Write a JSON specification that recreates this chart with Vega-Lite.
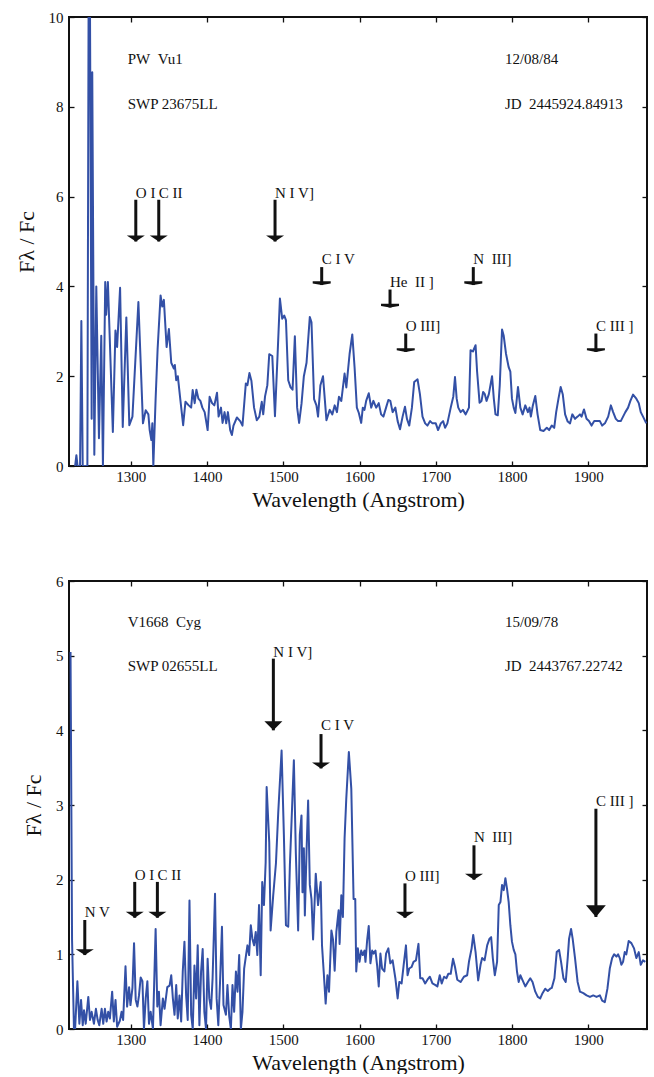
{
  "$schema": "https://vega.github.io/schema/vega-lite/v6.json",
  "background": "white",
  "padding": {"left": 14, "top": 9, "right": 7, "bottom": 0},
  "spacing": 62,
  "config": {
    "font": "Liberation Serif",
    "view": {"stroke": "#111111", "strokeWidth": 2},
    "axis": {
      "domain": false,
      "grid": false,
      "tickColor": "#111111",
      "tickWidth": 1.3,
      "tickSize": -5,
      "labelFont": "Liberation Serif",
      "labelFontSize": 15,
      "labelColor": "#111111",
      "titleFont": "Liberation Serif",
      "titleFontSize": 22,
      "titleFontWeight": "normal",
      "titleColor": "#111111"
    },
    "text": {"font": "Liberation Serif", "fontSize": 15, "color": "#111111"}
  },
  "datasets": {
    "pwvul": [
      {"w": 1227, "f": 0}, {"w": 1228.7, "f": 0.24}, {"w": 1230.2, "f": 0}, {"w": 1233.5, "f": 0},
      {"w": 1235.2, "f": 3.23}, {"w": 1237, "f": 0}, {"w": 1243.1, "f": 0}, {"w": 1244.7, "f": 10.3},
      {"w": 1246.5, "f": 10.3}, {"w": 1248.7, "f": 1.05}, {"w": 1249.5, "f": 8.77}, {"w": 1252.2, "f": 0.25},
      {"w": 1254.8, "f": 4.0}, {"w": 1258.3, "f": 0.62}, {"w": 1261.3, "f": 2.9}, {"w": 1263.5, "f": 0},
      {"w": 1266.5, "f": 4.1}, {"w": 1267.8, "f": 3.37}, {"w": 1270, "f": 4.1}, {"w": 1276.5, "f": 0.76},
      {"w": 1279.9, "f": 3.02}, {"w": 1282.1, "f": 2.65}, {"w": 1286, "f": 3.97}, {"w": 1289.5, "f": 0.87},
      {"w": 1294.2, "f": 3.31}, {"w": 1298.1, "f": 0.91}, {"w": 1302.2, "f": 1.1}, {"w": 1310, "f": 3.65},
      {"w": 1316, "f": 0.95}, {"w": 1319.6, "f": 1.24}, {"w": 1323.1, "f": 1.15}, {"w": 1324.8, "f": 0.8},
      {"w": 1327, "f": 0.58}, {"w": 1328.3, "f": 0.95}, {"w": 1329.6, "f": 0}, {"w": 1332.6, "f": 1.5},
      {"w": 1335.2, "f": 2.6}, {"w": 1339.1, "f": 3.8}, {"w": 1341.3, "f": 3.55}, {"w": 1343.4, "f": 3.7},
      {"w": 1347, "f": 2.65}, {"w": 1350, "f": 3.05}, {"w": 1353.1, "f": 2.3}, {"w": 1356.5, "f": 2.17},
      {"w": 1357.8, "f": 2.25}, {"w": 1359.6, "f": 1.91}, {"w": 1361.7, "f": 2.0}, {"w": 1365.2, "f": 1.45},
      {"w": 1368.7, "f": 0.91}, {"w": 1371.7, "f": 1.43}, {"w": 1376, "f": 1.35}, {"w": 1379.2, "f": 1.3},
      {"w": 1381.2, "f": 1.69}, {"w": 1383.8, "f": 1.4}, {"w": 1386.1, "f": 1.7}, {"w": 1388.7, "f": 1.5},
      {"w": 1391.3, "f": 1.45}, {"w": 1393.9, "f": 1.3}, {"w": 1396.9, "f": 1.2}, {"w": 1400.8, "f": 0.8},
      {"w": 1403.4, "f": 1.54}, {"w": 1406.6, "f": 1.4}, {"w": 1409.6, "f": 1.35}, {"w": 1413.1, "f": 1.63},
      {"w": 1415.2, "f": 1.1}, {"w": 1418.3, "f": 1.3}, {"w": 1420.4, "f": 0.96}, {"w": 1423, "f": 1.2},
      {"w": 1425.2, "f": 0.95}, {"w": 1427.4, "f": 1.2}, {"w": 1430.4, "f": 0.8}, {"w": 1432.6, "f": 0.69},
      {"w": 1434.7, "f": 0.9}, {"w": 1439.2, "f": 1.08}, {"w": 1443.5, "f": 1.0}, {"w": 1446.5, "f": 0.9},
      {"w": 1450.9, "f": 1.84}, {"w": 1453, "f": 1.8}, {"w": 1455.6, "f": 2.07}, {"w": 1458.2, "f": 1.9},
      {"w": 1461.7, "f": 1.3}, {"w": 1465.3, "f": 1.02}, {"w": 1468.6, "f": 1.1}, {"w": 1471.8, "f": 1.43},
      {"w": 1473.7, "f": 1.15}, {"w": 1476.1, "f": 1.55}, {"w": 1479.1, "f": 1.8}, {"w": 1481.6, "f": 2.49},
      {"w": 1485.6, "f": 2.45}, {"w": 1489.1, "f": 1.11}, {"w": 1492.6, "f": 2.5}, {"w": 1495.6, "f": 3.73},
      {"w": 1498.6, "f": 3.28}, {"w": 1501.3, "f": 3.35}, {"w": 1503.5, "f": 3.25}, {"w": 1506.5, "f": 1.91},
      {"w": 1509.6, "f": 1.75}, {"w": 1512.2, "f": 1.7}, {"w": 1515.2, "f": 2.89}, {"w": 1518.2, "f": 1.3},
      {"w": 1520.8, "f": 0.96}, {"w": 1524, "f": 1.4}, {"w": 1527, "f": 2.0}, {"w": 1530.5, "f": 2.3},
      {"w": 1534.8, "f": 3.32}, {"w": 1537, "f": 3.2}, {"w": 1540.4, "f": 1.49}, {"w": 1543.5, "f": 1.35},
      {"w": 1545.6, "f": 1.1}, {"w": 1548.7, "f": 1.8}, {"w": 1552.1, "f": 2.0}, {"w": 1556.6, "f": 1.02},
      {"w": 1560.9, "f": 1.25}, {"w": 1564.4, "f": 1.15}, {"w": 1567.4, "f": 1.35}, {"w": 1570.4, "f": 1.2},
      {"w": 1573, "f": 1.54}, {"w": 1576.1, "f": 1.45}, {"w": 1580.4, "f": 2.06}, {"w": 1582.7, "f": 1.75},
      {"w": 1587, "f": 2.5}, {"w": 1590.5, "f": 2.93}, {"w": 1593.5, "f": 2.2}, {"w": 1596.5, "f": 1.3},
      {"w": 1599.1, "f": 1.18}, {"w": 1602.2, "f": 0.96}, {"w": 1604.3, "f": 1.3}, {"w": 1606.5, "f": 1.25},
      {"w": 1608.7, "f": 1.45}, {"w": 1612.1, "f": 1.62}, {"w": 1615.3, "f": 1.3}, {"w": 1618.2, "f": 1.45},
      {"w": 1621.8, "f": 1.3}, {"w": 1625.2, "f": 1.4}, {"w": 1628.3, "f": 1.15}, {"w": 1631.3, "f": 1.1},
      {"w": 1634.8, "f": 1.3}, {"w": 1637.8, "f": 1.47}, {"w": 1640.4, "f": 1.45}, {"w": 1643.4, "f": 1.2},
      {"w": 1647, "f": 1.3}, {"w": 1650, "f": 1.0}, {"w": 1653.1, "f": 0.82}, {"w": 1656.5, "f": 1.1},
      {"w": 1659.6, "f": 1.32}, {"w": 1662.2, "f": 1.05}, {"w": 1665.2, "f": 0.9}, {"w": 1668.7, "f": 1.3},
      {"w": 1671.7, "f": 1.87}, {"w": 1676.1, "f": 1.93}, {"w": 1679.2, "f": 1.6}, {"w": 1682.6, "f": 1.1},
      {"w": 1686.1, "f": 0.95}, {"w": 1689.1, "f": 0.9}, {"w": 1692.6, "f": 1.0}, {"w": 1695.6, "f": 0.95},
      {"w": 1700, "f": 0.95}, {"w": 1703, "f": 0.8}, {"w": 1706.6, "f": 0.95}, {"w": 1709.6, "f": 1.0},
      {"w": 1712.2, "f": 0.85}, {"w": 1715.2, "f": 0.95}, {"w": 1719.6, "f": 1.3}, {"w": 1723, "f": 1.55},
      {"w": 1725.2, "f": 1.98}, {"w": 1727.4, "f": 1.5}, {"w": 1729.5, "f": 1.3}, {"w": 1732.6, "f": 1.2},
      {"w": 1735.6, "f": 1.25}, {"w": 1739.2, "f": 1.15}, {"w": 1743.5, "f": 1.3}, {"w": 1745.6, "f": 2.58},
      {"w": 1748.7, "f": 2.55}, {"w": 1752.2, "f": 2.69}, {"w": 1754.2, "f": 2.1}, {"w": 1757.4, "f": 1.41},
      {"w": 1760, "f": 1.45}, {"w": 1762.1, "f": 1.65}, {"w": 1764.3, "f": 1.6}, {"w": 1766.6, "f": 1.45},
      {"w": 1769.6, "f": 1.6}, {"w": 1771.7, "f": 1.8}, {"w": 1773.8, "f": 2.0}, {"w": 1776.1, "f": 1.5},
      {"w": 1778.3, "f": 1.15}, {"w": 1781.3, "f": 1.13}, {"w": 1783.9, "f": 1.8}, {"w": 1786.9, "f": 3.04},
      {"w": 1789.1, "f": 2.9}, {"w": 1792.1, "f": 2.5}, {"w": 1795.6, "f": 2.2}, {"w": 1797.8, "f": 2.1},
      {"w": 1799.9, "f": 1.5}, {"w": 1802.2, "f": 1.3}, {"w": 1804.4, "f": 1.18}, {"w": 1807.8, "f": 1.76},
      {"w": 1810.9, "f": 1.3}, {"w": 1813.9, "f": 1.15}, {"w": 1817.4, "f": 1.35}, {"w": 1820.8, "f": 1.2},
      {"w": 1823, "f": 1.3}, {"w": 1824.7, "f": 1.1}, {"w": 1827.3, "f": 1.35}, {"w": 1830.5, "f": 1.56},
      {"w": 1833.5, "f": 1.15}, {"w": 1837, "f": 0.8}, {"w": 1841.3, "f": 0.78}, {"w": 1845.6, "f": 0.85},
      {"w": 1848.7, "f": 0.8}, {"w": 1852.1, "f": 0.9}, {"w": 1855.3, "f": 0.85}, {"w": 1857.9, "f": 1.2},
      {"w": 1860.9, "f": 1.5}, {"w": 1863.8, "f": 1.76}, {"w": 1866.5, "f": 1.6}, {"w": 1869.6, "f": 1.15},
      {"w": 1873, "f": 0.99}, {"w": 1876.1, "f": 0.95}, {"w": 1879.1, "f": 1.15}, {"w": 1882.6, "f": 1.05},
      {"w": 1886, "f": 1.1}, {"w": 1889.1, "f": 1.15}, {"w": 1891.2, "f": 1.1}, {"w": 1894.4, "f": 1.26},
      {"w": 1897.7, "f": 1.05}, {"w": 1900.9, "f": 1.0}, {"w": 1904.3, "f": 0.9}, {"w": 1907.8, "f": 1.0},
      {"w": 1910.8, "f": 1.0}, {"w": 1915.2, "f": 1.0}, {"w": 1918.2, "f": 0.9}, {"w": 1921.8, "f": 0.95},
      {"w": 1926.1, "f": 1.1}, {"w": 1929.6, "f": 1.35}, {"w": 1932.6, "f": 1.2}, {"w": 1936.1, "f": 1.05},
      {"w": 1939.1, "f": 1.0}, {"w": 1942.6, "f": 1.0}, {"w": 1945.6, "f": 1.1}, {"w": 1948.6, "f": 1.2},
      {"w": 1952.2, "f": 1.3}, {"w": 1955.2, "f": 1.45}, {"w": 1958.7, "f": 1.59}, {"w": 1963, "f": 1.5},
      {"w": 1966.2, "f": 1.4}, {"w": 1968.8, "f": 1.2}, {"w": 1971.8, "f": 1.1}, {"w": 1976.1, "f": 0.95}
    ],
    "v1668": [
      {"w": 1221, "f": 5.05}, {"w": 1223, "f": 1.2}, {"w": 1225.5, "f": 0}, {"w": 1227, "f": 0},
      {"w": 1230, "f": 0.64}, {"w": 1232.6, "f": 0.07}, {"w": 1234.8, "f": 0.39}, {"w": 1237, "f": 0.05},
      {"w": 1238.7, "f": 0.25}, {"w": 1240.9, "f": 0.07}, {"w": 1244.3, "f": 0.43}, {"w": 1246.5, "f": 0.12},
      {"w": 1248.7, "f": 0.23}, {"w": 1251.7, "f": 0.07}, {"w": 1254.3, "f": 0.27}, {"w": 1256.6, "f": 0.12},
      {"w": 1258.7, "f": 0.05}, {"w": 1261.8, "f": 0.27}, {"w": 1263.9, "f": 0.07}, {"w": 1266.1, "f": 0.27},
      {"w": 1268.3, "f": 0.1}, {"w": 1270.4, "f": 0.23}, {"w": 1272.6, "f": 0.14}, {"w": 1275.6, "f": 0.5},
      {"w": 1277.8, "f": 0.1}, {"w": 1280, "f": 0.39}, {"w": 1282.1, "f": 0.03}, {"w": 1285.7, "f": 0.11},
      {"w": 1287.9, "f": 0.23}, {"w": 1290, "f": 0.12}, {"w": 1293.1, "f": 0.84}, {"w": 1295.2, "f": 0.3},
      {"w": 1297.8, "f": 0.56}, {"w": 1299.6, "f": 0.32}, {"w": 1302.2, "f": 0.55}, {"w": 1304.3, "f": 1.15},
      {"w": 1306.5, "f": 0.39}, {"w": 1308.7, "f": 0.3}, {"w": 1310.8, "f": 0.45}, {"w": 1313, "f": 0.69},
      {"w": 1315.3, "f": 0.64}, {"w": 1317.3, "f": 0}, {"w": 1319.6, "f": 0.41}, {"w": 1321.8, "f": 0.64},
      {"w": 1323.9, "f": 0.07}, {"w": 1326.1, "f": 0.23}, {"w": 1329.1, "f": 0}, {"w": 1332.6, "f": 1.34},
      {"w": 1334.8, "f": 0.3}, {"w": 1336.9, "f": 0.5}, {"w": 1339.1, "f": 0.05}, {"w": 1342.1, "f": 0.41},
      {"w": 1344.3, "f": 0.27}, {"w": 1347.9, "f": 0.56}, {"w": 1350.9, "f": 0.58}, {"w": 1353.1, "f": 0.72},
      {"w": 1355.2, "f": 0.41}, {"w": 1357.4, "f": 0.19}, {"w": 1359.6, "f": 0.59}, {"w": 1361.6, "f": 0.14},
      {"w": 1363.9, "f": 0.45}, {"w": 1366.1, "f": 0.1}, {"w": 1368.2, "f": 0.77}, {"w": 1370.4, "f": 1.17},
      {"w": 1372.6, "f": 0.45}, {"w": 1374.7, "f": 0.12}, {"w": 1377, "f": 1.72}, {"w": 1379.2, "f": 0.19},
      {"w": 1381.3, "f": 0}, {"w": 1383.5, "f": 0.85}, {"w": 1385.7, "f": 0.41}, {"w": 1387.8, "f": 1.12},
      {"w": 1390, "f": 0.05}, {"w": 1392.2, "f": 0.77}, {"w": 1394.3, "f": 1.07}, {"w": 1396.5, "f": 0.23},
      {"w": 1398.7, "f": 0}, {"w": 1400.8, "f": 0.94}, {"w": 1403, "f": 0.41}, {"w": 1405.3, "f": 0.27},
      {"w": 1407.3, "f": 0.68}, {"w": 1410.5, "f": 1.81}, {"w": 1412.6, "f": 0.41}, {"w": 1414.8, "f": 0.05},
      {"w": 1417, "f": 0.61}, {"w": 1419.6, "f": 1.37}, {"w": 1421.6, "f": 0.32}, {"w": 1424.8, "f": 0.19},
      {"w": 1426.8, "f": 0.59}, {"w": 1429.1, "f": 0.17}, {"w": 1431.3, "f": 0}, {"w": 1433.4, "f": 0.59},
      {"w": 1435.6, "f": 0.23}, {"w": 1437.9, "f": 0.77}, {"w": 1440, "f": 0.5}, {"w": 1442.2, "f": 0.99},
      {"w": 1444.4, "f": 0}, {"w": 1446.5, "f": 0.23}, {"w": 1448.7, "f": 0.81}, {"w": 1450.9, "f": 0.97},
      {"w": 1453, "f": 1.12}, {"w": 1455.2, "f": 0.99}, {"w": 1457.4, "f": 1.39}, {"w": 1459.5, "f": 1.21},
      {"w": 1461.7, "f": 1.12}, {"w": 1463.9, "f": 1.3}, {"w": 1466, "f": 0.99}, {"w": 1468.2, "f": 1.66},
      {"w": 1470.4, "f": 0.72}, {"w": 1472.4, "f": 1.97}, {"w": 1474.7, "f": 1.66}, {"w": 1476.9, "f": 2.23},
      {"w": 1478.2, "f": 3.24}, {"w": 1481.6, "f": 2.5}, {"w": 1483.4, "f": 1.32}, {"w": 1486.8, "f": 1.79},
      {"w": 1490.4, "f": 2.22}, {"w": 1493.4, "f": 2.9}, {"w": 1497.8, "f": 3.73}, {"w": 1500.8, "f": 2.6},
      {"w": 1503.5, "f": 1.39}, {"w": 1506.5, "f": 1.37}, {"w": 1508.7, "f": 2.2}, {"w": 1513.9, "f": 3.6},
      {"w": 1516.5, "f": 2.35}, {"w": 1519.5, "f": 1.32}, {"w": 1521.7, "f": 2.6}, {"w": 1523.9, "f": 2.86},
      {"w": 1525.2, "f": 1.83}, {"w": 1527, "f": 2.42}, {"w": 1528.3, "f": 1.52}, {"w": 1530.5, "f": 2.37},
      {"w": 1532.6, "f": 3.06}, {"w": 1534.8, "f": 1.93}, {"w": 1537, "f": 1.74}, {"w": 1539.1, "f": 1.2},
      {"w": 1542.6, "f": 2.08}, {"w": 1545.6, "f": 1.66}, {"w": 1549.1, "f": 1.97}, {"w": 1550.8, "f": 1.12},
      {"w": 1553, "f": 0.77}, {"w": 1555.6, "f": 0.34}, {"w": 1557.9, "f": 0.72}, {"w": 1560, "f": 0.5},
      {"w": 1563.1, "f": 1.32}, {"w": 1565.2, "f": 1.2}, {"w": 1567.4, "f": 0.78}, {"w": 1569.6, "f": 1.3},
      {"w": 1572.6, "f": 1.59}, {"w": 1573.9, "f": 1.14}, {"w": 1576.1, "f": 1.79}, {"w": 1578.2, "f": 1.5},
      {"w": 1580.4, "f": 2.55}, {"w": 1582.6, "f": 3.08}, {"w": 1586, "f": 3.71}, {"w": 1589.2, "f": 3.22},
      {"w": 1592.2, "f": 1.74}, {"w": 1594.4, "f": 1.74}, {"w": 1595.7, "f": 0.77}, {"w": 1597.8, "f": 1.08},
      {"w": 1600, "f": 0.9}, {"w": 1602.2, "f": 1.05}, {"w": 1604.3, "f": 0.99}, {"w": 1606.5, "f": 1.05},
      {"w": 1607.8, "f": 0.9}, {"w": 1610, "f": 1.19}, {"w": 1612.1, "f": 1.38}, {"w": 1614.3, "f": 0.88},
      {"w": 1616.6, "f": 1.05}, {"w": 1618.6, "f": 1.01}, {"w": 1620.9, "f": 1.05}, {"w": 1623.1, "f": 0.85},
      {"w": 1625.2, "f": 0.57}, {"w": 1627.4, "f": 1.01}, {"w": 1629.6, "f": 0.81}, {"w": 1632.6, "f": 0.77},
      {"w": 1634.8, "f": 1.01}, {"w": 1637.8, "f": 1.08}, {"w": 1640.4, "f": 0.88}, {"w": 1643.4, "f": 0.92},
      {"w": 1647, "f": 0.68}, {"w": 1650, "f": 0.41}, {"w": 1652.2, "f": 0.63}, {"w": 1655.2, "f": 0.61},
      {"w": 1657.8, "f": 0.85}, {"w": 1660.9, "f": 1.12}, {"w": 1663, "f": 0.72}, {"w": 1665.2, "f": 0.81},
      {"w": 1668.2, "f": 0.83}, {"w": 1670.8, "f": 0.9}, {"w": 1674, "f": 0.92}, {"w": 1677.3, "f": 1.14},
      {"w": 1679.6, "f": 0.68}, {"w": 1682.6, "f": 0.68}, {"w": 1686.1, "f": 0.61}, {"w": 1689.1, "f": 0.66},
      {"w": 1692.2, "f": 0.7}, {"w": 1695.6, "f": 0.61}, {"w": 1699.1, "f": 0.59}, {"w": 1702.1, "f": 0.57},
      {"w": 1705.2, "f": 0.72}, {"w": 1707.8, "f": 0.61}, {"w": 1710.9, "f": 0.7}, {"w": 1713.9, "f": 0.68},
      {"w": 1716.5, "f": 0.74}, {"w": 1719.6, "f": 0.74}, {"w": 1722.6, "f": 0.94}, {"w": 1725.2, "f": 0.83},
      {"w": 1728.2, "f": 0.66}, {"w": 1732.6, "f": 0.63}, {"w": 1736.9, "f": 0.7}, {"w": 1741.2, "f": 0.72},
      {"w": 1743.5, "f": 0.9}, {"w": 1747, "f": 1.08}, {"w": 1749.1, "f": 1.26}, {"w": 1752.2, "f": 1.03},
      {"w": 1755.6, "f": 0.65}, {"w": 1758.7, "f": 0.86}, {"w": 1760.8, "f": 0.95}, {"w": 1764, "f": 0.92},
      {"w": 1767.4, "f": 1.12}, {"w": 1770.5, "f": 1.21}, {"w": 1772.6, "f": 1.23}, {"w": 1774.8, "f": 0.95},
      {"w": 1777.4, "f": 0.72}, {"w": 1780.4, "f": 0.9}, {"w": 1782.6, "f": 1.66}, {"w": 1784.8, "f": 1.7},
      {"w": 1786.9, "f": 1.93}, {"w": 1789.1, "f": 1.86}, {"w": 1791.3, "f": 2.02}, {"w": 1793.4, "f": 1.88},
      {"w": 1795.6, "f": 1.7}, {"w": 1797.8, "f": 1.39}, {"w": 1799.9, "f": 1.17}, {"w": 1802.2, "f": 1.06},
      {"w": 1804.4, "f": 1.0}, {"w": 1806.5, "f": 0.77}, {"w": 1808.7, "f": 0.63}, {"w": 1810.9, "f": 0.72},
      {"w": 1813.9, "f": 0.65}, {"w": 1817.4, "f": 0.57}, {"w": 1820.8, "f": 0.63}, {"w": 1823.9, "f": 0.68},
      {"w": 1826.9, "f": 0.63}, {"w": 1830.5, "f": 0.5}, {"w": 1833.8, "f": 0.43}, {"w": 1837, "f": 0.41},
      {"w": 1840, "f": 0.48}, {"w": 1843.5, "f": 0.54}, {"w": 1846.9, "f": 0.51}, {"w": 1850, "f": 0.54},
      {"w": 1852.1, "f": 0.55}, {"w": 1855.6, "f": 0.68}, {"w": 1858.6, "f": 1.03}, {"w": 1861.7, "f": 1.06},
      {"w": 1864.3, "f": 0.9}, {"w": 1867.4, "f": 0.68}, {"w": 1870.4, "f": 0.63}, {"w": 1873, "f": 0.95},
      {"w": 1874.8, "f": 1.21}, {"w": 1877.4, "f": 1.34}, {"w": 1879.5, "f": 1.21}, {"w": 1882.6, "f": 0.95},
      {"w": 1886, "f": 0.63}, {"w": 1889.1, "f": 0.5}, {"w": 1893.5, "f": 0.48}, {"w": 1897.8, "f": 0.45},
      {"w": 1902.2, "f": 0.43}, {"w": 1906.5, "f": 0.45}, {"w": 1910.8, "f": 0.43}, {"w": 1915.2, "f": 0.45},
      {"w": 1918.2, "f": 0.38}, {"w": 1921.7, "f": 0.36}, {"w": 1925.1, "f": 0.54}, {"w": 1928.2, "f": 0.81},
      {"w": 1931.3, "f": 0.95}, {"w": 1933.9, "f": 1.0}, {"w": 1936.9, "f": 0.97}, {"w": 1939.1, "f": 1.0},
      {"w": 1941.3, "f": 0.95}, {"w": 1943.4, "f": 0.86}, {"w": 1945.6, "f": 0.9}, {"w": 1947.8, "f": 1.03},
      {"w": 1949.9, "f": 1.0}, {"w": 1953, "f": 1.18}, {"w": 1956.5, "f": 1.15}, {"w": 1960, "f": 1.08},
      {"w": 1963, "f": 0.95}, {"w": 1966.2, "f": 1.03}, {"w": 1968.8, "f": 0.86}, {"w": 1971.8, "f": 0.92},
      {"w": 1974.8, "f": 0.9}
    ],
    "linesTop": [
      {"label": "O I", "w": 1306.6, "top": 5.93, "tip": 5.0, "ly": 5.97, "head": "wide"},
      {"label": "C II", "w": 1336.7, "top": 5.93, "tip": 5.0, "ly": 5.97, "head": "wide"},
      {"label": "N I V]", "w": 1489.2, "top": 5.93, "tip": 5.0, "ly": 5.97, "head": "wide"},
      {"label": "C I V", "w": 1550.4, "top": 4.43, "tip": 4.03, "ly": 4.5, "head": "flat"},
      {"label": "He\u00a0\u00a0II ]", "w": 1640, "top": 3.93, "tip": 3.53, "ly": 3.98, "head": "flat"},
      {"label": "O III]", "w": 1660.6, "top": 2.95, "tip": 2.54, "ly": 3.01, "head": "flat"},
      {"label": "N\u00a0\u00a0III]", "w": 1749.2, "top": 4.43, "tip": 4.03, "ly": 4.5, "head": "flat"},
      {"label": "C III ]", "w": 1910, "top": 2.95, "tip": 2.54, "ly": 3.01, "head": "flat"}
    ],
    "linesBottom": [
      {"label": "N V", "w": 1239.7, "top": 1.46, "tip": 0.99, "ly": 1.5, "head": "wide"},
      {"label": "O I", "w": 1305.2, "top": 1.97, "tip": 1.49, "ly": 2.0, "head": "wide"},
      {"label": "C II", "w": 1334.9, "top": 1.97, "tip": 1.49, "ly": 2.0, "head": "wide"},
      {"label": "N I V]", "w": 1487, "top": 4.96, "tip": 4.0, "ly": 4.98, "head": "tall"},
      {"label": "C I V", "w": 1549.5, "top": 3.95, "tip": 3.49, "ly": 4.0, "head": "wide"},
      {"label": "O III]", "w": 1659.6, "top": 1.95, "tip": 1.49, "ly": 1.98, "head": "wide"},
      {"label": "N\u00a0\u00a0III]", "w": 1750.1, "top": 2.46, "tip": 2.0, "ly": 2.5, "head": "wide"},
      {"label": "C III ]", "w": 1910, "top": 2.95, "tip": 1.5, "ly": 2.99, "head": "large"}
    ],
    "infoTop": [
      {"t": "PW\u00a0\u00a0Vu1", "w": 1296, "f": 8.96},
      {"t": "SWP 23675LL", "w": 1296, "f": 7.95},
      {"t": "12/08/84", "w": 1790.7, "f": 8.96},
      {"t": "JD\u00a0\u00a02445924.84913", "w": 1790.7, "f": 7.95}
    ],
    "infoBottom": [
      {"t": "V1668\u00a0\u00a0Cyg", "w": 1296, "f": 5.39},
      {"t": "SWP 02655LL", "w": 1296, "f": 4.8},
      {"t": "15/09/78", "w": 1790.7, "f": 5.39},
      {"t": "JD\u00a0\u00a02443767.22742", "w": 1790.7, "f": 4.8}
    ]
  },
  "vconcat": [
    {
      "width": 578,
      "height": 449,
      "resolve": {"axis": {"x": "independent", "y": "independent"}},
      "layer": [
        {
          "data": {"name": "pwvul"},
          "mark": {"type": "line", "color": "#3350a6", "strokeWidth": 2, "strokeJoin": "round", "clip": true},
          "encoding": {
            "x": {"field": "w", "type": "quantitative", "scale": {"domain": [1219, 1977], "nice": false, "zero": false},
                  "axis": {"values": [1300, 1400, 1500, 1600, 1700, 1800, 1900], "format": "d", "title": "Wavelength (Angstrom)", "labelPadding": 8, "titlePadding": 5}},
            "y": {"field": "f", "type": "quantitative", "scale": {"domain": [0, 10], "nice": false},
                  "axis": {"values": [0, 2, 4, 6, 8, 10], "title": "F\u03bb / Fc", "labelPadding": 11, "titlePadding": 10}}
          }
        },
        {
          "data": {"name": "linesTop"},
          "mark": {"type": "rule", "color": "#111111", "strokeWidth": 3},
          "encoding": {
            "x": {"field": "w", "type": "quantitative", "scale": {"domain": [1219, 1977], "nice": false, "zero": false}, "axis": null},
            "y": {"field": "top", "type": "quantitative", "scale": {"domain": [0, 10], "nice": false}, "axis": null},
            "y2": {"field": "tip"}
          }
        },
        {
          "data": {"name": "linesTop"},
          "mark": {"type": "point", "filled": true, "color": "#111111", "opacity": 1, "size": 324, "strokeWidth": 0},
          "encoding": {
            "x": {"field": "w", "type": "quantitative", "scale": {"domain": [1219, 1977], "nice": false, "zero": false}, "axis": null},
            "y": {"field": "tip", "type": "quantitative", "scale": {"domain": [0, 10], "nice": false}, "axis": null},
            "shape": {"field": "head", "type": "nominal", "legend": null,
                      "scale": {"domain": ["wide", "flat", "tall", "large"],
                                "range": ["M-1,-0.66L1,-0.66L0,0Z", "M-1,-0.42L1,-0.42L1,-0.18L0,0L-1,-0.18Z", "M-1,-1L1,-1L0,0Z", "M-1.1,-1.3L1.1,-1.3L0,0Z"]}}
          }
        },
        {
          "data": {"name": "linesTop"},
          "mark": {"type": "text", "align": "left", "baseline": "alphabetic"},
          "encoding": {
            "x": {"field": "w", "type": "quantitative", "scale": {"domain": [1219, 1977], "nice": false, "zero": false}, "axis": null},
            "y": {"field": "ly", "type": "quantitative", "scale": {"domain": [0, 10], "nice": false}, "axis": null},
            "text": {"field": "label"}
          }
        },
        {
          "data": {"name": "infoTop"},
          "mark": {"type": "text", "align": "left", "baseline": "alphabetic"},
          "encoding": {
            "x": {"field": "w", "type": "quantitative", "scale": {"domain": [1219, 1977], "nice": false, "zero": false},
                  "axis": {"orient": "top", "values": [1300, 1400, 1500, 1600, 1700, 1800, 1900], "labels": false, "title": null}},
            "y": {"field": "f", "type": "quantitative", "scale": {"domain": [0, 10], "nice": false},
                  "axis": {"orient": "right", "values": [0, 2, 4, 6, 8, 10], "labels": false, "title": null}},
            "text": {"field": "t"}
          }
        }
      ]
    },
    {
      "width": 578,
      "height": 448,
      "resolve": {"axis": {"x": "independent", "y": "independent"}},
      "layer": [
        {
          "data": {"name": "v1668"},
          "mark": {"type": "line", "color": "#3350a6", "strokeWidth": 2, "strokeJoin": "round", "clip": true},
          "encoding": {
            "x": {"field": "w", "type": "quantitative", "scale": {"domain": [1219, 1977], "nice": false, "zero": false},
                  "axis": {"values": [1300, 1400, 1500, 1600, 1700, 1800, 1900], "format": "d", "title": "Wavelength (Angstrom)", "labelPadding": 8, "titlePadding": 5}},
            "y": {"field": "f", "type": "quantitative", "scale": {"domain": [0, 6], "nice": false},
                  "axis": {"values": [0, 1, 2, 3, 4, 5, 6], "title": "F\u03bb / Fc", "labelPadding": 11, "titlePadding": 10}}
          }
        },
        {
          "data": {"name": "linesBottom"},
          "mark": {"type": "rule", "color": "#111111", "strokeWidth": 3},
          "encoding": {
            "x": {"field": "w", "type": "quantitative", "scale": {"domain": [1219, 1977], "nice": false, "zero": false}, "axis": null},
            "y": {"field": "top", "type": "quantitative", "scale": {"domain": [0, 6], "nice": false}, "axis": null},
            "y2": {"field": "tip"}
          }
        },
        {
          "data": {"name": "linesBottom"},
          "mark": {"type": "point", "filled": true, "color": "#111111", "opacity": 1, "size": 324, "strokeWidth": 0},
          "encoding": {
            "x": {"field": "w", "type": "quantitative", "scale": {"domain": [1219, 1977], "nice": false, "zero": false}, "axis": null},
            "y": {"field": "tip", "type": "quantitative", "scale": {"domain": [0, 6], "nice": false}, "axis": null},
            "shape": {"field": "head", "type": "nominal", "legend": null,
                      "scale": {"domain": ["wide", "flat", "tall", "large"],
                                "range": ["M-1,-0.66L1,-0.66L0,0Z", "M-1,-0.42L1,-0.42L1,-0.18L0,0L-1,-0.18Z", "M-1,-1L1,-1L0,0Z", "M-1.1,-1.3L1.1,-1.3L0,0Z"]}}
          }
        },
        {
          "data": {"name": "linesBottom"},
          "mark": {"type": "text", "align": "left", "baseline": "alphabetic"},
          "encoding": {
            "x": {"field": "w", "type": "quantitative", "scale": {"domain": [1219, 1977], "nice": false, "zero": false}, "axis": null},
            "y": {"field": "ly", "type": "quantitative", "scale": {"domain": [0, 6], "nice": false}, "axis": null},
            "text": {"field": "label"}
          }
        },
        {
          "data": {"name": "infoBottom"},
          "mark": {"type": "text", "align": "left", "baseline": "alphabetic"},
          "encoding": {
            "x": {"field": "w", "type": "quantitative", "scale": {"domain": [1219, 1977], "nice": false, "zero": false},
                  "axis": {"orient": "top", "values": [1300, 1400, 1500, 1600, 1700, 1800, 1900], "labels": false, "title": null}},
            "y": {"field": "f", "type": "quantitative", "scale": {"domain": [0, 6], "nice": false},
                  "axis": {"orient": "right", "values": [0, 1, 2, 3, 4, 5, 6], "labels": false, "title": null}},
            "text": {"field": "t"}
          }
        }
      ]
    }
  ]
}
